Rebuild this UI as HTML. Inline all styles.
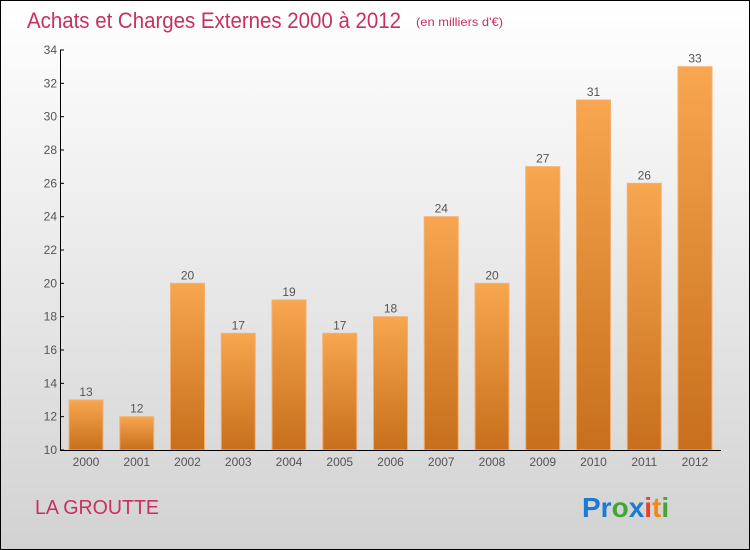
<!DOCTYPE html>
<html><head><meta charset="utf-8"><style>
body{margin:0;width:750px;height:550px;overflow:hidden}
svg{display:block}
text{font-family:"Liberation Sans",sans-serif}
</style></head><body>
<svg width="750" height="550">
<defs>
<linearGradient id="bg" x1="0" y1="0" x2="0" y2="1"><stop offset="0" stop-color="#ffffff"/><stop offset="1" stop-color="#d2d2d2"/></linearGradient>
<linearGradient id="bar" x1="0" y1="0" x2="0" y2="1"><stop offset="0" stop-color="#f8a650"/><stop offset="1" stop-color="#c76f1c"/></linearGradient>
</defs>
<rect x="0.5" y="0.5" width="749" height="549" fill="url(#bg)" stroke="#000"/>
<text x="27" y="28" font-size="22" fill="#c8305f" textLength="374" lengthAdjust="spacingAndGlyphs">Achats et Charges Externes 2000 à 2012</text>
<text x="416" y="26" font-size="12" fill="#c8305f" textLength="87" lengthAdjust="spacingAndGlyphs">(en milliers d'€)</text>
<g id="plot"></g>
<text x="35" y="514" font-size="20" fill="#c8305f" textLength="124" lengthAdjust="spacingAndGlyphs">LA GROUTTE</text>
<text x="582" y="517" font-size="28" font-weight="bold"><tspan fill="#1a7ad4">Pr</tspan><tspan fill="#43a532">o</tspan><tspan fill="#1a7ad4">x</tspan><tspan fill="#e8402a">i</tspan><tspan fill="#f08a1a">t</tspan><tspan fill="#43a532">i</tspan></text>
</svg>
<script>
const categories=["2000","2001","2002","2003","2004","2005","2006","2007","2008","2009","2010","2011","2012"];
const values=[13,12,20,17,19,17,18,24,20,27,31,26,33];
const yTicks=[10,12,14,16,18,20,22,24,26,28,30,32,34];
const NS="http://www.w3.org/2000/svg",g=document.getElementById('plot');
const y=v=>450-(v-10)*400/24, x=i=>86+i*50.75;
function mk(t,a,txt){const e=document.createElementNS(NS,t);for(const k in a)e.setAttribute(k,a[k]);if(txt!=null)e.textContent=txt;g.appendChild(e);return e;}
yTicks.forEach(v=>{
 let l=mk('line',{x1:60,x2:64,y1:y(v),y2:y(v),stroke:'#000'});
 
 
 let t=mk('text',{x:57,y:y(v)+4,'font-size':12,fill:'#555','text-anchor':'end'},v);
 
 
});
values.forEach((v,i)=>{
 let r=mk('rect',{x:x(i)-17,y:y(v),width:34,height:450-y(v),fill:'url(#bar)',stroke:'#f4b070','stroke-width':1});
 
 
 let t=mk('text',{x:x(i),y:y(v)-4,'font-size':12,fill:'#555','text-anchor':'middle'},v);
 
 
 let c=mk('text',{x:x(i),y:466,'font-size':12,fill:'#555','text-anchor':'middle'},categories[i]);
 
 
});
let ya=mk('line',{x1:60.5,x2:60.5,y1:50,y2:450,stroke:'#000'});


let xa=mk('line',{x1:60,x2:721,y1:450.5,y2:450.5,stroke:'#000'});


</script>
</body></html>
